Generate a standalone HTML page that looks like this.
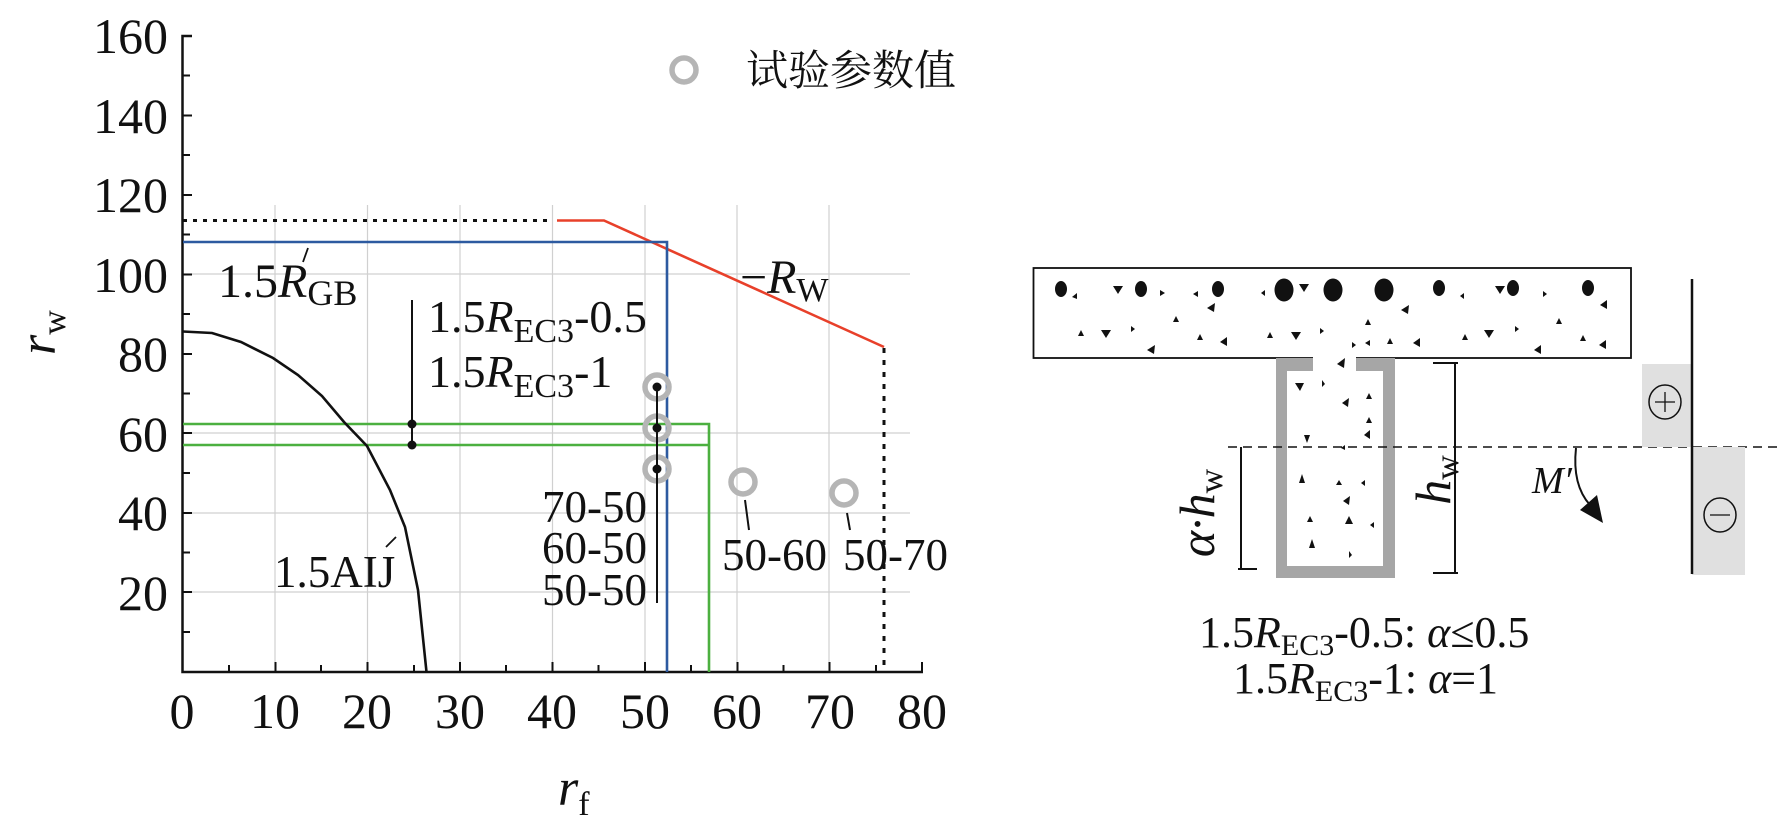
<!DOCTYPE html>
<html><head><meta charset="utf-8"><style>
html,body{margin:0;padding:0;background:#fff}
svg{display:block}
text{font-family:"Liberation Serif","Noto Serif CJK SC",serif;fill:#111}
</style></head><body>
<svg width="1778" height="840" viewBox="0 0 1778 840" xmlns="http://www.w3.org/2000/svg">
<g stroke="#d0d0d0" stroke-width="1.2">
<line x1="275" y1="205" x2="275" y2="672"/><line x1="367.5" y1="205" x2="367.5" y2="672"/>
<line x1="460" y1="205" x2="460" y2="672"/><line x1="552.5" y1="205" x2="552.5" y2="672"/>
<line x1="645" y1="205" x2="645" y2="672"/><line x1="737" y1="205" x2="737" y2="672"/>
<line x1="829" y1="205" x2="829" y2="672"/>
<line x1="182" y1="592" x2="910" y2="592"/><line x1="182" y1="513" x2="910" y2="513"/>
<line x1="182" y1="433" x2="910" y2="433"/><line x1="182" y1="274" x2="910" y2="274"/>
</g>
<g stroke="#111" stroke-width="2.5" fill="none">
<polyline points="192,36 182.5,36 182.5,672 923,672"/>
</g>
<g stroke="#111" stroke-width="2">
<line x1="182" y1="75.5" x2="190" y2="75.5"/><line x1="182" y1="115.5" x2="192" y2="115.5"/>
<line x1="182" y1="155" x2="190" y2="155"/><line x1="182" y1="195" x2="192" y2="195"/>
<line x1="182" y1="234.5" x2="190" y2="234.5"/><line x1="182" y1="274.5" x2="192" y2="274.5"/>
<line x1="182" y1="314" x2="190" y2="314"/><line x1="182" y1="354" x2="192" y2="354"/>
<line x1="182" y1="393.5" x2="190" y2="393.5"/><line x1="182" y1="433" x2="192" y2="433"/>
<line x1="182" y1="473" x2="190" y2="473"/><line x1="182" y1="513" x2="192" y2="513"/>
<line x1="182" y1="552.5" x2="190" y2="552.5"/><line x1="182" y1="592" x2="192" y2="592"/>
<line x1="182" y1="632" x2="190" y2="632"/>
<line x1="229" y1="672" x2="229" y2="665"/><line x1="275.5" y1="672" x2="275.5" y2="662"/>
<line x1="321" y1="672" x2="321" y2="665"/><line x1="367.5" y1="672" x2="367.5" y2="662"/>
<line x1="414" y1="672" x2="414" y2="665"/><line x1="460" y1="672" x2="460" y2="662"/>
<line x1="506" y1="672" x2="506" y2="665"/><line x1="552.5" y1="672" x2="552.5" y2="662"/>
<line x1="598.5" y1="672" x2="598.5" y2="665"/><line x1="645" y1="672" x2="645" y2="662"/>
<line x1="691" y1="672" x2="691" y2="665"/><line x1="737.5" y1="672" x2="737.5" y2="662"/>
<line x1="783.5" y1="672" x2="783.5" y2="665"/><line x1="829.5" y1="672" x2="829.5" y2="662"/>
<line x1="876" y1="672" x2="876" y2="665"/><line x1="922" y1="672" x2="922" y2="662"/>
</g>
<g font-size="50" text-anchor="end">
<text x="168" y="53">160</text><text x="168" y="133">140</text><text x="168" y="212">120</text>
<text x="168" y="292">100</text><text x="168" y="371">80</text><text x="168" y="451">60</text>
<text x="168" y="530">40</text><text x="168" y="610">20</text>
</g>
<g font-size="50" text-anchor="middle">
<text x="182" y="728">0</text><text x="275" y="728">10</text><text x="367" y="728">20</text>
<text x="460" y="728">30</text><text x="552" y="728">40</text><text x="645" y="728">50</text>
<text x="737" y="728">60</text><text x="830" y="728">70</text><text x="922" y="728">80</text>
</g>
<text x="0" y="0" font-size="52" font-style="italic" transform="translate(55,355) rotate(-90)">r<tspan font-style="normal" font-size="34" dy="10">w</tspan></text>
<text x="558" y="805" font-size="52" font-style="italic">r<tspan font-style="normal" font-size="34" dy="10">f</tspan></text>
<line x1="183" y1="220.5" x2="548" y2="220.5" stroke="#111" stroke-width="3" stroke-dasharray="4,6"/>
<line x1="884" y1="348" x2="884" y2="672" stroke="#111" stroke-width="3" stroke-dasharray="5,7"/>
<polyline points="557,220.5 604,220.5 884,347" fill="none" stroke="#e8402a" stroke-width="2.6"/>
<polyline points="183,242 667,242 667,672" fill="none" stroke="#2d5aa0" stroke-width="2.6"/>
<polyline points="183,424 709,424 709,672" fill="none" stroke="#4cb040" stroke-width="2.6"/>
<line x1="183" y1="445" x2="709" y2="445" stroke="#4cb040" stroke-width="2.6"/>
<polyline points="183,331.5 212,333 241,342 273,358 298,375 322,396 344,422 367,446 390,490 405,527 418,590 426.5,672" fill="none" stroke="#111" stroke-width="2.6"/>
<line x1="412" y1="300" x2="412" y2="445" stroke="#111" stroke-width="2"/>
<circle cx="412" cy="424" r="4.5" fill="#111"/><circle cx="412" cy="445" r="4.5" fill="#111"/>
<g fill="none" stroke="#b5b5b5" stroke-width="5.5">
<circle cx="657" cy="387" r="12"/><circle cx="657" cy="428" r="12"/><circle cx="657" cy="469" r="12"/>
<circle cx="743" cy="482" r="12"/><circle cx="844" cy="493" r="12"/>
<circle cx="684" cy="70" r="12"/>
</g>
<line x1="657" y1="387" x2="657" y2="603" stroke="#111" stroke-width="2"/>
<circle cx="657" cy="387" r="4.5" fill="#111"/><circle cx="657" cy="428" r="4.5" fill="#111"/><circle cx="657" cy="469" r="4.5" fill="#111"/>
<line x1="745" y1="500" x2="749" y2="530" stroke="#111" stroke-width="2"/>
<line x1="847" y1="513" x2="850" y2="530" stroke="#111" stroke-width="2"/>
<line x1="303" y1="262" x2="308" y2="248" stroke="#111" stroke-width="1.8"/>
<line x1="386" y1="547" x2="396" y2="537" stroke="#111" stroke-width="1.8"/>
<text x="746" y="85" font-size="42">试验参数值</text>
<text x="218" y="297" font-size="48">1.5<tspan font-style="italic">R</tspan><tspan font-size="36" dy="8">GB</tspan></text>
<text x="740" y="293" font-size="48">−<tspan font-style="italic">R</tspan><tspan font-size="34" dy="8">W</tspan></text>
<text x="428" y="332" font-size="46">1.5<tspan font-style="italic">R</tspan><tspan font-size="34" dy="10">EC3</tspan><tspan dy="-10">-0.5</tspan></text>
<text x="428" y="387" font-size="46">1.5<tspan font-style="italic">R</tspan><tspan font-size="34" dy="10">EC3</tspan><tspan dy="-10">-1</tspan></text>
<text x="274" y="587" font-size="45">1.5AIJ</text>
<g font-size="45" text-anchor="end">
<text x="647" y="522">70-50</text><text x="647" y="563">60-50</text><text x="647" y="605">50-50</text>
</g>
<text x="722" y="570" font-size="45">50-60</text>
<text x="843" y="570" font-size="45">50-70</text>

<rect x="1033.5" y="268" width="597.5" height="90" fill="#fff" stroke="#111" stroke-width="1.8"/>
<rect x="1313" y="355" width="43" height="6" fill="#fff"/>
<path d="M1276,358 H1313 V371 H1287 V566 H1383 V371 H1356 V358 H1395 V578 H1276 Z" fill="#a6a6a6"/>
<g fill="#111">
<ellipse cx="1061" cy="289" rx="6" ry="8"/><ellipse cx="1141" cy="289" rx="6" ry="8"/>
<ellipse cx="1218" cy="289" rx="6" ry="8"/><ellipse cx="1284" cy="290" rx="9.5" ry="11.5"/>
<ellipse cx="1333" cy="290" rx="9.5" ry="11.5"/><ellipse cx="1384" cy="290" rx="9.5" ry="11.5"/>
<ellipse cx="1439" cy="288" rx="6" ry="8"/><ellipse cx="1513" cy="288" rx="6" ry="8"/>
<ellipse cx="1588" cy="288" rx="6" ry="8"/>
</g>
<g fill="#111">
<path d="M1077,293 l-5,4 l5,2z"/><path d="M1113,286 h10 l-5,8z"/><path d="M1160,290 l5,3 l-5,3z"/>
<path d="M1198,291 l-5,3 l5,3z"/><path d="M1215,303 l-8,5 l7,4z"/><path d="M1265,290 l-4,3 l4,3z"/>
<path d="M1299,284 h10 l-5,8z"/><path d="M1409,305 l-8,5 l7,4z"/><path d="M1464,293 l-4,3 l4,3z"/>
<path d="M1495,286 h10 l-5,8z"/><path d="M1543,291 l4,3 l-4,3z"/><path d="M1607,300 l-7,5 l7,4z"/>
<path d="M1078,336 l3,-6 l3,6z"/><path d="M1101,330 h10 l-5,8z"/><path d="M1131,326 l4,3 l-4,3z"/>
<path d="M1173,322 l3,-6 l3,6z"/><path d="M1155,345 l-8,5 l7,4z"/><path d="M1197,340 l3,-6 l3,6z"/>
<path d="M1227,337 l-7,5 l7,4z"/><path d="M1267,338 l3,-6 l3,6z"/><path d="M1291,332 h10 l-5,8z"/>
<path d="M1320,328 l4,3 l-4,3z"/><path d="M1365,325 l3,-6 l3,6z"/><path d="M1352,342 l4,3 l-4,3z"/>
<path d="M1370,340 l-5,3 l5,3z"/><path d="M1387,344 l3,-6 l3,6z"/><path d="M1420,338 l-7,5 l7,4z"/>
<path d="M1462,340 l3,-6 l3,6z"/><path d="M1484,330 h10 l-5,8z"/><path d="M1515,326 l4,3 l-4,3z"/>
<path d="M1556,324 l3,-6 l3,6z"/><path d="M1541,345 l-7,5 l7,4z"/><path d="M1580,341 l3,-6 l3,6z"/>
<path d="M1606,340 l-7,5 l7,4z"/><path d="M1345,358 l-8,6 l7,4z"/>
<path d="M1295,383 h9 l-4,8z"/><path d="M1322,380 l3,4 l-3,3z"/><path d="M1349,398 l-7,5 l6,4z"/>
<path d="M1366,399 l3,-6 l3,6z"/><path d="M1366,423 l3,-6 l3,6z"/><path d="M1370,430 l-6,5 l6,4z"/>
<path d="M1304,435 l3,8 l3,-8z"/><path d="M1345,445 l-4,3 l4,2z"/>
<path d="M1299,483 l3,-9 l3,9z"/><path d="M1336,485 l3,-5 l3,5z"/><path d="M1365,480 l-4,3 l4,3z"/>
<path d="M1350,496 l-7,5 l6,4z"/><path d="M1307,522 l3,-6 l3,6z"/><path d="M1345,524 l4,-8 l4,8z"/>
<path d="M1374,522 l-4,3 l4,3z"/><path d="M1309,548 l3,-9 l3,9z"/><path d="M1349,551 l3,4 l-3,3z"/>
</g>
<line x1="1228" y1="447" x2="1778" y2="447" stroke="#111" stroke-width="1.6" stroke-dasharray="9,6"/>
<g stroke="#111" stroke-width="2">
<line x1="1455" y1="363" x2="1455" y2="573"/><line x1="1433" y1="363" x2="1458" y2="363"/><line x1="1433" y1="573" x2="1458" y2="573"/>
<line x1="1241" y1="447" x2="1241" y2="569"/><line x1="1238" y1="569" x2="1257" y2="569"/>
</g>
<text x="0" y="0" font-size="50" font-style="italic" text-anchor="middle" transform="translate(1450,480) rotate(-90)">h<tspan font-style="normal" font-size="34" dy="8">w</tspan></text>
<text x="0" y="0" font-size="50" font-style="italic" text-anchor="middle" transform="translate(1214,513) rotate(-90)">α·h<tspan font-style="normal" font-size="34" dy="8">w</tspan></text>
<rect x="1642" y="364" width="50" height="83" fill="#e0e0e0"/>
<rect x="1692" y="447" width="53" height="128" fill="#e0e0e0"/>
<line x1="1692" y1="279" x2="1692" y2="574" stroke="#111" stroke-width="2.5"/>
<ellipse cx="1665" cy="402" rx="16" ry="17" fill="none" stroke="#111" stroke-width="1.5"/>
<path d="M1655,402 h20 M1665,392 v20" stroke="#111" stroke-width="1.3"/>
<ellipse cx="1720" cy="515" rx="16" ry="17" fill="none" stroke="#111" stroke-width="1.5"/>
<path d="M1710,515 h20" stroke="#111" stroke-width="1.3"/>
<path d="M1576,448 Q1572,485 1590,505" fill="none" stroke="#111" stroke-width="2"/>
<path d="M1580,510 L1603,523 L1597,495 Z" fill="#111"/>
<text x="1532" y="493" font-size="38" font-style="italic">M′</text>
<text x="1199" y="647" font-size="44">1.5<tspan font-style="italic">R</tspan><tspan font-size="30" dy="8">EC3</tspan><tspan dy="-8">-0.5: </tspan><tspan font-style="italic">α</tspan>≤0.5</text>
<text x="1233" y="693" font-size="44">1.5<tspan font-style="italic">R</tspan><tspan font-size="30" dy="8">EC3</tspan><tspan dy="-8">-1: </tspan><tspan font-style="italic">α</tspan>=1</text>
</svg>
</body></html>
